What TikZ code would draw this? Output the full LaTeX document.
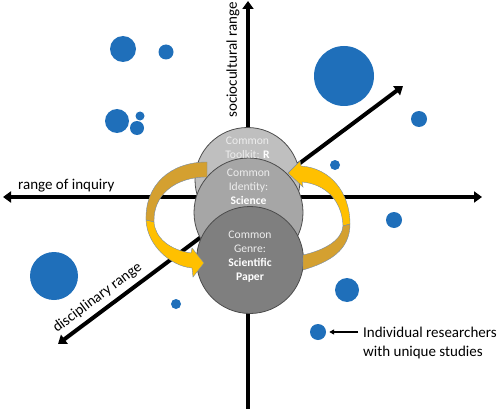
\documentclass[tikz,border=0pt]{standalone}
\usepackage{fontspec}
\setmainfont{Carlito}
\usetikzlibrary{arrows.meta}
\definecolor{dotblue}{RGB}{31,111,186}
\definecolor{gold}{RGB}{212,160,48}
\definecolor{brightyellow}{RGB}{255,192,0}
\definecolor{arrowedge}{RGB}{120,140,165}
\definecolor{cA}{RGB}{191,191,191}
\definecolor{cB}{RGB}{166,166,166}
\definecolor{cC}{RGB}{127,127,127}
\begin{document}
\begin{tikzpicture}[x=1pt,y=-1pt,
  axisline/.style={line width=4pt, >={Triangle[length=8pt,width=11pt]}},
  dot/.style={circle, fill=dotblue, inner sep=0pt, minimum size=#1},
  disc/.style={circle, draw=black!70, line width=0.8pt, inner sep=0pt, minimum size=#1},
  ctext/.style={align=center, inner sep=0pt, text=white!93!black, font=\fontsize{11.6}{14}\selectfont},
  axlabel/.style={inner sep=0pt, font=\fontsize{15}{18}\selectfont},
  backband/.style={fill=gold, draw=arrowedge, line width=0.4pt},
  frontband/.style={fill=brightyellow, draw=arrowedge, line width=0.4pt}
]
\useasboundingbox (0,0) rectangle (500,409);

% axes
\coordinate (vB) at (248,409);
\coordinate (vT) at (248,1);
\coordinate (hL) at (3,197);
\coordinate (hR) at (482,197);
\coordinate (dL) at (58,344);
\coordinate (dR) at (403,86);
\draw[axisline, ->] (vB) -- (vT);
\draw[axisline, <->] (hL) -- (hR);
\draw[axisline, <->] (dL) -- (dR);

% axis labels
\node[axlabel, anchor=base west] (inq) at (18,189) {range of inquiry};
\node[axlabel, rotate=90] (soc) at (233,60) {sociocultural range};
\node[axlabel, rotate=36.8, anchor=base west] (disc) at (57,333) {disciplinary range};

% researcher dots
\node[dot=26pt] (d1) at (123,49) {};
\node[dot=15pt] (d2) at (166,52) {};
\node[dot=24pt] (d3) at (117,121) {};
\node[dot=9pt] (d4) at (140,116) {};
\node[dot=14pt] (d5) at (137,128) {};
\node[dot=60pt] (d6) at (344,76) {};
\node[dot=16pt] (d7) at (419,119) {};
\node[dot=10pt] (d8) at (335,165) {};
\node[dot=16pt] (d9) at (394,220) {};
\node[dot=48pt] (d10) at (54,276) {};
\node[dot=10pt] (d11) at (176,304) {};
\node[dot=24pt] (d12) at (347,290) {};
\node[dot=16pt] (legdot) at (318,332) {};

% legend
\coordinate (legstart) at (358,332);
\draw[line width=1.3pt, -{Triangle[length=5pt,width=5pt]}, shorten >=3pt] (legstart) -- (legdot.east);
\node[axlabel, anchor=base west] (leg1) at (363,337) {Individual researchers};
\node[axlabel, anchor=base west] (leg2) at (363,356) {with unique studies};

% three common circles
\node[disc=105pt, fill=cA] (toolkit) at (247.5,180) {};
\node[disc=109pt, fill=cB] (identity) at (248.5,212.5) {};
\node[disc=107pt, fill=cC] (genre) at (250,260) {};
\node[ctext] (t1) at (247.5,148) {Common\\Toolkit: \textcolor{white}{\textbf{R}}};
\node[ctext] (t2) at (248.5,187) {Common\\Identity:\\\textcolor{white}{\textbf{Science}}};
\node[ctext] (t3) at (250,257) {Common\\Genre:\\\textcolor{white}{\textbf{Scientific}}\\\textcolor{white}{\textbf{Paper}}};

% left curved arrow
\path[backband] (207,162) .. controls (170,162) and (145,185) .. (146,220)
  -- (154,222) .. controls (153,195) and (175,177) .. (207,177) -- cycle;
\path[frontband] (146,220) .. controls (147,245) and (170,266) .. (192,268)
  -- (193,277) -- (204,263) -- (192,248) -- (191,253)
  .. controls (170,250) and (155,238) .. (154,222) -- cycle;

% right curved arrow
\path[frontband] (288,173) -- (300,161) -- (301,166)
  .. controls (330,168) and (350,192) .. (350,224)
  -- (343,226) .. controls (342,200) and (325,184) .. (302,182)
  -- (303,187) -- cycle;
\path[backband] (350,224) .. controls (350,250) and (330,262) .. (303,270)
  -- (303,255) .. controls (325,250) and (342,240) .. (343,226) -- cycle;
\end{tikzpicture}
\end{document}
